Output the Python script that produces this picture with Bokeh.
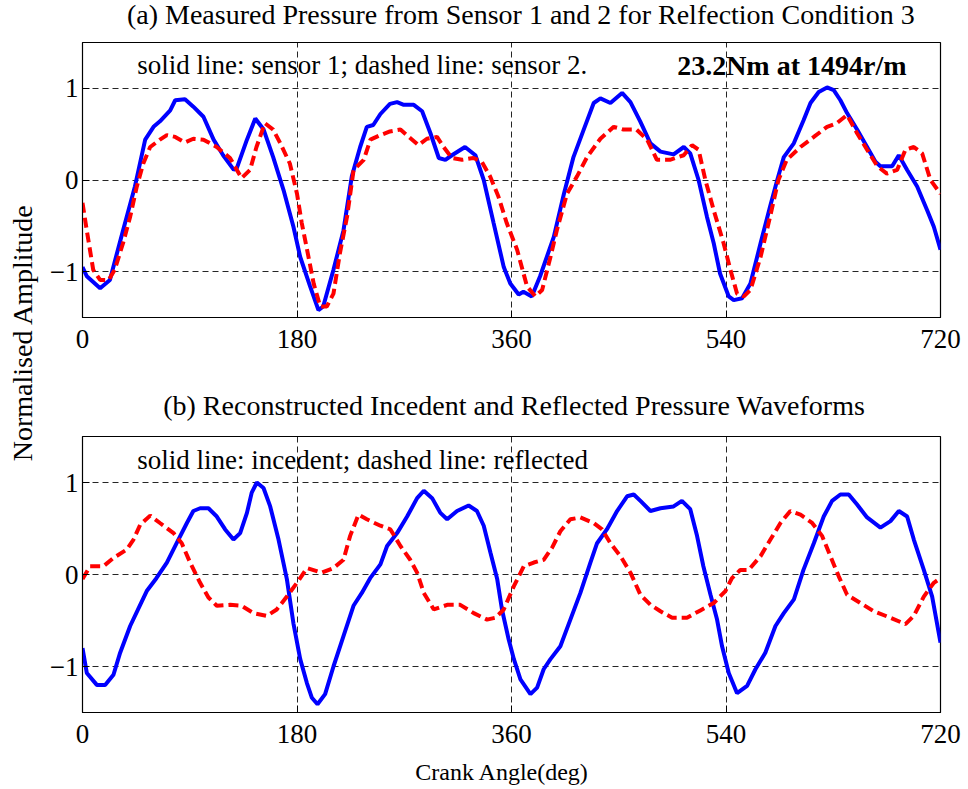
import math
from bokeh.plotting import figure
from bokeh.layouts import row, column
from bokeh.models import Range1d, FixedTicker
from bokeh.core.properties import value
from bokeh.embed import file_html
from bokeh.resources import INLINE

# ---------------- data ----------------
x_tick_values = [0, 180, 360, 540, 720]
y_tick_values = [-1, 0, 1]

# (a) measured pressure, sensor 1 (solid) and sensor 2 (dashed)
s1_deg = [0, 3.6, 14.8, 23, 34, 44, 52.6, 59.6, 65, 73.6, 77.8, 86, 93, 101.5, 110, 118, 127, 129.5,
          138, 145, 152, 160, 168.7, 177, 182.7, 191, 198, 202, 210.6, 219, 226, 233, 238.6, 244, 250,
          258, 264, 269.6, 278, 285, 292, 299, 304.5, 310, 321, 329.7, 336.7, 345, 353.5, 359, 366,
          370, 377, 384, 395.5, 404, 412, 420.6, 429, 434.6, 443, 452.8, 459.8, 468, 476.6, 485, 496,
          504.6, 510, 517, 524, 529.7, 535, 542.3, 546.5, 553.5, 560.5, 569, 577, 583, 588.5, 596.9,
          605, 610.9, 617.8, 624.8, 630.4, 636, 641.6, 650, 658.4, 665.4, 669.6, 679.4, 685, 692,
          700.4, 708.8, 714.4, 720]
s1_val = [-0.95, -1.05, -1.18, -1.09, -0.55, -0.07, 0.44, 0.58, 0.64, 0.76, 0.87, 0.88, 0.80, 0.69,
          0.44, 0.27, 0.11, 0.13, 0.44, 0.67, 0.55, 0.25, -0.11, -0.51, -0.84, -1.16, -1.42, -1.38,
          -0.98, -0.55, 0.04, 0.36, 0.58, 0.60, 0.72, 0.83, 0.85, 0.82, 0.82, 0.75, 0.51, 0.24, 0.22,
          0.27, 0.36, 0.27, 0.0, -0.47, -0.95, -1.13, -1.25, -1.22, -1.27, -1.05, -0.62, -0.15, 0.25,
          0.55, 0.84, 0.89, 0.84, 0.95, 0.85, 0.64, 0.40, 0.31, 0.28, 0.36, 0.29, 0.0, -0.40, -0.69,
          -1.02, -1.27, -1.31, -1.29, -1.13, -0.69, -0.29, 0.0, 0.25, 0.40, 0.65, 0.84, 0.96, 1.01,
          0.98, 0.87, 0.73, 0.55, 0.36, 0.20, 0.15, 0.15, 0.27, 0.11, -0.07, -0.33, -0.51, -0.76]

s2_deg = [0, 3.6, 9, 14.8, 22, 27, 34, 40, 45.6, 51, 56.8, 65, 70.8, 77.8, 86, 93, 101.5, 112.6,
          123.8, 133.5, 140.6, 146, 153, 160, 166, 174, 180, 184, 188, 194, 199.5, 205, 210.6, 216,
          222, 227.5, 236, 241.6, 250, 258, 266.8, 273.8, 282, 289, 297.5, 303, 310, 318.5, 328, 335,
          342, 349, 356, 364.7, 373, 380, 385.7, 392.7, 398, 406.6, 415, 423.4, 434.6, 445.8, 454,
          465, 473.8, 482, 493, 504.5, 511.5, 517, 522.7, 529.7, 538, 543.7, 549.3, 555, 560.5, 569,
          577, 584, 591, 602.5, 613.7, 624.8, 633, 641.6, 650, 658.4, 667, 675, 683.6, 690.6, 697.6,
          704.6, 711.6, 720]
s2_val = [-0.25, -0.55, -0.98, -1.09, -1.09, -0.98, -0.69, -0.40, -0.07, 0.18, 0.36, 0.44, 0.49,
          0.47, 0.41, 0.45, 0.44, 0.36, 0.24, 0.02, 0.11, 0.36, 0.62, 0.55, 0.40, 0.18, -0.15, -0.47,
          -0.73, -1.13, -1.38, -1.38, -1.24, -0.80, -0.40, 0.11, 0.22, 0.44, 0.49, 0.53, 0.55, 0.47,
          0.38, 0.45, 0.47, 0.36, 0.24, 0.22, 0.24, 0.20, 0.04, -0.18, -0.47, -0.76, -1.16, -1.27,
          -1.20, -0.84, -0.55, -0.15, 0.04, 0.25, 0.45, 0.58, 0.55, 0.55, 0.44, 0.22, 0.22, 0.27,
          0.38, 0.33, 0.0, -0.33, -0.69, -0.98, -1.24, -1.27, -1.20, -0.84, -0.40, 0.0, 0.22, 0.36,
          0.47, 0.58, 0.62, 0.71, 0.51, 0.33, 0.15, 0.07, 0.11, 0.33, 0.36, 0.29, 0.0, -0.15]

# (b) reconstructed incident (solid) and reflected (dashed)
inc_deg = [0, 3.6, 12, 19, 26, 31.6, 40, 48, 53.9, 62, 70.8, 79, 87.6, 93, 98.7, 105.7, 112.7, 119.7,
           126.7, 132.3, 138, 142, 146.3, 151.9, 157.5, 164.5, 171.5, 177, 182.7, 188.3, 192.5,
           197.2, 203.6, 210.6, 219, 227.4, 234.4, 241.4, 250, 255.6, 264, 272.4, 280.8, 286.4,
           293.4, 300.3, 306, 314.3, 324, 331, 336.7, 342.3, 348, 352, 357.7, 362, 367.5, 375.9,
           381.5, 387, 392.7, 401, 409.4, 417.8, 426.2, 431.8, 440, 448.6, 457, 462.6, 468.2, 476.6,
           485, 496, 503, 510, 515.7, 521, 527, 532.5, 536.7, 542.3, 549.3, 557.7, 564.7, 573,
           581.5, 588.5, 597, 605, 613.7, 622, 629, 636, 643, 650, 658.4, 669.6, 678, 685, 692,
           697.6, 706, 713, 720]
inc_val = [-0.80, -1.07, -1.20, -1.20, -1.09, -0.85, -0.56, -0.34, -0.18, -0.04, 0.13, 0.34, 0.56,
           0.69, 0.72, 0.72, 0.63, 0.49, 0.38, 0.45, 0.67, 0.89, 1.00, 0.94, 0.74, 0.38, -0.05,
           -0.53, -0.92, -1.18, -1.34, -1.41, -1.30, -1.00, -0.67, -0.34, -0.20, -0.04, 0.11, 0.31,
           0.45, 0.63, 0.83, 0.91, 0.83, 0.67, 0.60, 0.69, 0.75, 0.69, 0.53, 0.24, -0.05, -0.38,
           -0.71, -0.92, -1.14, -1.30, -1.23, -1.03, -0.92, -0.78, -0.49, -0.20, 0.13, 0.34, 0.49,
           0.69, 0.85, 0.87, 0.80, 0.69, 0.72, 0.74, 0.80, 0.71, 0.42, 0.09, -0.22, -0.49, -0.78,
           -1.07, -1.29, -1.21, -1.03, -0.85, -0.56, -0.42, -0.27, 0.05, 0.34, 0.63, 0.80, 0.87,
           0.87, 0.76, 0.62, 0.51, 0.58, 0.69, 0.63, 0.38, 0.05, -0.24, -0.74]

ref_deg = [0, 6.4, 17.6, 26, 37, 42.8, 48.4, 56.8, 65, 76.4, 83.3, 90.3, 98.7, 105.7, 112.7, 123.9,
           133.5, 143.5, 154.7, 163, 171.5, 180, 188.3, 200.8, 210.6, 219, 224.6, 231.6, 238.6, 250,
           258.4, 266.8, 275, 280.8, 286.4, 294.8, 306, 317, 328.3, 339.5, 346.5, 353.5, 361.9,
           370.3, 378.7, 387, 394, 401, 409.4, 417.8, 429, 436, 443, 451.4, 459.8, 468.2, 476.6, 485,
           494.8, 507.3, 518.5, 529.7, 539.5, 545, 552, 559, 569, 577.3, 585.7, 594, 602.5, 612.3,
           620.6, 627.6, 634.6, 641.6, 652.8, 664, 678, 690.6, 697.6, 706, 714.4, 720]
ref_val = [-0.05, 0.09, 0.09, 0.18, 0.27, 0.38, 0.54, 0.64, 0.56, 0.45, 0.34, 0.13, -0.09, -0.25,
           -0.34, -0.33, -0.34, -0.42, -0.45, -0.38, -0.24, -0.09, 0.07, 0.02, 0.07, 0.16, 0.42,
           0.65, 0.60, 0.53, 0.49, 0.31, 0.16, 0.02, -0.20, -0.38, -0.33, -0.33, -0.42, -0.49, -0.47,
           -0.38, -0.13, 0.09, 0.13, 0.16, 0.29, 0.47, 0.60, 0.62, 0.56, 0.49, 0.34, 0.20, 0.02,
           -0.22, -0.33, -0.40, -0.47, -0.47, -0.39, -0.31, -0.18, -0.04, 0.05, 0.05, 0.20, 0.38,
           0.56, 0.69, 0.65, 0.56, 0.42, 0.20, -0.02, -0.22, -0.31, -0.40, -0.47, -0.54, -0.45,
           -0.24, -0.09, -0.04]

title_a = "(a) Measured Pressure from Sensor 1 and 2 for Relfection Condition 3"
title_b = "(b) Reconstructed Incedent and Reflected Pressure Waveforms"
note_a = "solid line: sensor 1; dashed line: sensor 2."
note_a_bold = "23.2Nm at 1494r/m"
note_b = "solid line: incedent; dashed line: reflected"
x_label = "Crank Angle(deg)"
y_label = "Normalised Amplitude"

FONT = "Liberation Serif"
BLUE = "#0000FF"
RED = "#FF0000"
LABEL_W = 44
PANEL_W = 924
TOTAL_H = 789


def text_strip(txt, height, cx, cy_from_top, size):
    """A plain canvas holding one line of text (titles and the x-axis label)."""
    t = figure(width=PANEL_W, height=height, output_backend="svg", toolbar_location=None,
               x_range=Range1d(0, PANEL_W), y_range=Range1d(0, height),
               x_axis_type=None, y_axis_type=None, min_border=0)
    t.outline_line_color = None
    t.xgrid.visible = False
    t.ygrid.visible = False
    t.text(x=[cx], y=[height - cy_from_top], text=[txt], text_font=value(FONT),
           text_font_size=size, text_align="center", text_baseline="middle", text_color="black")
    return t


def make_panel(height, top, bottom):
    p = figure(width=PANEL_W, height=height, output_backend="svg", toolbar_location=None,
               x_range=Range1d(0, 720), y_range=Range1d(-1.5, 1.5),
               min_border_left=38, min_border_right=28,
               min_border_top=top, min_border_bottom=bottom)
    p.background_fill_color = "white"
    p.border_fill_color = "white"
    p.outline_line_color = "black"
    p.outline_line_width = 1.2
    for ax in (p.xaxis, p.yaxis):
        ax.axis_line_color = "black"
        ax.major_tick_in = 7
        ax.major_tick_out = 0
        ax.major_tick_line_color = "black"
        ax.minor_tick_line_color = None
        ax.major_label_text_font = FONT
        ax.major_label_text_font_size = "27px"
        ax.major_label_text_color = "black"
    p.xaxis.ticker = FixedTicker(ticks=x_tick_values)
    p.yaxis.ticker = FixedTicker(ticks=y_tick_values)
    p.xaxis.major_label_standoff = 12
    p.yaxis.major_label_standoff = 4
    p.xgrid.ticker = FixedTicker(ticks=[180, 360, 540])
    p.ygrid.ticker = FixedTicker(ticks=y_tick_values)
    for g in (p.xgrid, p.ygrid):
        g.grid_line_color = "black"
        g.grid_line_dash = "6 4"
        g.grid_line_width = 1
        g.grid_line_alpha = 0.85
    return p


# title (a) strip: page y 0..40
t1 = text_strip(title_a, 40, 516 - LABEL_W, 14, "28px")

# panel (a): page y 40..383, frame 42..317
p1 = make_panel(343, 2, 66)
p1.line(s1_deg, s1_val, line_color=BLUE, line_width=4)
p1.line(s2_deg, s2_val, line_color=RED, line_width=4, line_dash="10 5")
p1.text(x=[46], y=[1.25], text=[note_a], text_font=value(FONT), text_font_size="27px",
        text_align="left", text_baseline="middle", text_color="black")
p1.text(x=[499], y=[1.25], text=[note_a_bold], text_font=value(FONT), text_font_size="28px",
        text_font_style="bold", text_align="left", text_baseline="middle", text_color="black")

# title (b) strip: page y 383..434
t2 = text_strip(title_b, 51, 509 - LABEL_W, 405 - 383, "28px")

# panel (b): page y 434..752, frame 436..712
p2 = make_panel(752 - 434, 2, 40)
p2.line(inc_deg, inc_val, line_color=BLUE, line_width=4)
p2.line(ref_deg, ref_val, line_color=RED, line_width=4, line_dash="10 5")
p2.text(x=[46], y=[1.25], text=[note_b], text_font=value(FONT), text_font_size="27px",
        text_align="left", text_baseline="middle", text_color="black")

# x-axis label strip: page y 752..789
t3 = text_strip(x_label, TOTAL_H - 752, 496 - LABEL_W, 771 - 752, "24px")

# shared y-axis label
pl = figure(width=LABEL_W, height=TOTAL_H, output_backend="svg", toolbar_location=None,
            x_range=Range1d(0, LABEL_W), y_range=Range1d(0, TOTAL_H),
            x_axis_type=None, y_axis_type=None, min_border=0)
pl.outline_line_color = None
pl.xgrid.visible = False
pl.ygrid.visible = False
pl.text(x=[22], y=[TOTAL_H - 332], text=[y_label], angle=math.pi / 2, text_font=value(FONT),
        text_font_size="28px", text_align="center", text_baseline="middle", text_color="black")

layout = row(pl, column(t1, p1, t2, p2, t3, spacing=0), spacing=0)

with open("out.html", "w") as f:
    f.write(file_html(layout, INLINE))
